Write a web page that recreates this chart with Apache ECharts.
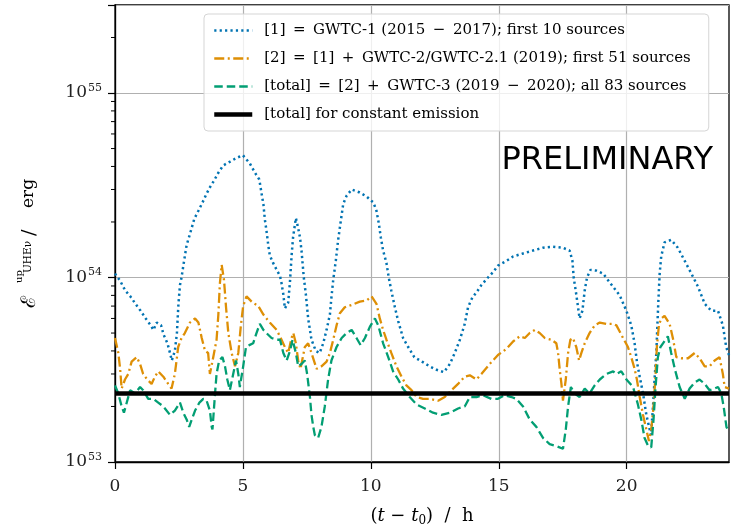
<!DOCTYPE html>
<html>
<head>
<meta charset="utf-8" />
<script src="https://cdn.jsdelivr.net/npm/echarts@6/dist/echarts.min.js"></script>
<style>
html, body { margin: 0; padding: 0; background: #fff; }
#chart { width: 732px; height: 530px; }
</style>
</head>
<body>
<div id="chart"></div>
<script>
// time since t0 in hours, upper limits in units of 1e54 erg
var tGwtc1 = [0,0.2,0.4,0.6,0.8,1.0,1.2,1.4,1.5,1.63,1.8,1.9,2.05,2.15,2.22,2.34,2.42,2.48,2.54,2.6,2.7,2.8,2.93,3.1,3.26,3.42,3.58,3.72,3.87,4.04,4.23,4.5,4.75,5.0,5.27,5.47,5.64,5.73,5.8,5.86,5.92,5.99,6.05,6.18,6.32,6.45,6.51,6.58,6.64,6.71,6.77,6.84,6.9,6.96,7.07,7.16,7.23,7.29,7.38,7.46,7.55,7.68,7.85,8.0,8.14,8.27,8.4,8.46,8.53,8.63,8.72,8.82,8.92,9.05,9.25,9.54,9.83,10.1,10.22,10.31,10.39,10.48,10.61,10.7,10.8,10.94,11.07,11.26,11.46,11.7,12.0,12.3,12.57,12.86,13.09,13.28,13.48,13.67,13.8,13.97,14.13,14.32,14.58,14.78,14.97,15.3,15.56,15.95,16.34,16.73,17.12,17.5,17.77,17.88,17.93,18.03,18.16,18.27,18.36,18.45,18.58,18.81,19.08,19.34,19.73,19.99,20.18,20.31,20.4,20.51,20.64,20.77,20.9,20.95,21.03,21.09,21.16,21.2,21.24,21.29,21.35,21.48,21.74,22.0,22.27,22.53,22.79,23.05,23.31,23.57,23.76,23.89,24.0];
var eGwtc1 = [1.05,0.96,0.85,0.79,0.72,0.66,0.6,0.55,0.52,0.57,0.55,0.49,0.44,0.39,0.355,0.4,0.5,0.72,0.91,1.0,1.23,1.5,1.72,2.08,2.3,2.55,2.85,3.1,3.35,3.7,4.05,4.25,4.45,4.6,4.15,3.7,3.4,2.85,2.5,2.05,1.8,1.5,1.32,1.2,1.1,1.02,0.93,0.81,0.68,0.67,0.73,0.95,1.3,1.65,2.1,1.85,1.65,1.4,1.0,0.81,0.6,0.46,0.4,0.39,0.44,0.52,0.63,0.78,0.97,1.23,1.59,2.0,2.5,2.77,3.0,2.9,2.75,2.55,2.3,1.97,1.65,1.4,1.2,1.0,0.85,0.69,0.58,0.47,0.42,0.37,0.35,0.33,0.316,0.307,0.34,0.39,0.46,0.56,0.69,0.78,0.83,0.91,1.0,1.07,1.16,1.23,1.3,1.35,1.4,1.45,1.47,1.45,1.4,1.23,1.0,0.81,0.6,0.66,0.85,1.0,1.1,1.09,1.05,0.94,0.8,0.66,0.55,0.44,0.35,0.29,0.235,0.18,0.15,0.14,0.2,0.28,0.39,0.55,0.75,1.05,1.3,1.55,1.6,1.45,1.23,1.05,0.89,0.72,0.66,0.66,0.55,0.42,0.38];

var tGwtc2 = [0,0.13,0.2,0.26,0.39,0.52,0.65,0.85,0.98,1.1,1.26,1.43,1.56,1.69,1.89,2.08,2.21,2.34,2.47,2.6,2.73,2.93,3.13,3.26,3.39,3.52,3.64,3.71,3.78,3.84,3.97,4.04,4.1,4.17,4.26,4.34,4.43,4.56,4.69,4.82,4.92,5.01,5.14,5.34,5.6,5.8,6.05,6.32,6.51,6.64,6.77,6.9,6.97,7.07,7.16,7.25,7.42,7.55,7.68,7.88,8.07,8.27,8.4,8.53,8.66,8.79,8.98,9.25,9.57,9.83,10.03,10.22,10.35,10.48,10.61,10.8,11.0,11.2,11.39,11.59,11.79,12.04,12.3,12.63,12.89,13.15,13.41,13.67,13.87,14.13,14.32,14.65,14.97,15.3,15.56,15.82,16.02,16.21,16.41,16.6,16.8,17.06,17.25,17.32,17.38,17.45,17.51,17.62,17.71,17.8,17.9,18.03,18.14,18.23,18.36,18.55,18.75,18.95,19.21,19.47,19.6,19.86,20.05,20.18,20.31,20.4,20.51,20.64,20.77,20.87,20.96,21.05,21.13,21.18,21.26,21.35,21.48,21.68,21.82,21.94,22.14,22.4,22.66,22.85,23.05,23.24,23.44,23.63,23.76,23.83,24.0];
var eGwtc2 = [0.47,0.39,0.32,0.25,0.28,0.3,0.35,0.37,0.34,0.3,0.28,0.265,0.29,0.31,0.29,0.265,0.25,0.3,0.42,0.47,0.5,0.57,0.6,0.57,0.47,0.4,0.39,0.3,0.3,0.37,0.46,0.63,0.93,1.17,0.97,0.69,0.5,0.39,0.33,0.39,0.55,0.7,0.79,0.74,0.7,0.63,0.57,0.52,0.46,0.42,0.39,0.47,0.5,0.44,0.355,0.32,0.42,0.44,0.39,0.32,0.33,0.35,0.39,0.46,0.55,0.64,0.69,0.71,0.74,0.75,0.79,0.72,0.6,0.52,0.46,0.39,0.33,0.29,0.26,0.245,0.225,0.22,0.22,0.215,0.225,0.245,0.265,0.29,0.295,0.28,0.3,0.34,0.38,0.41,0.45,0.48,0.47,0.5,0.52,0.5,0.47,0.46,0.44,0.39,0.32,0.265,0.215,0.28,0.39,0.46,0.47,0.42,0.355,0.39,0.44,0.5,0.55,0.57,0.56,0.56,0.55,0.47,0.42,0.37,0.32,0.28,0.225,0.18,0.15,0.13,0.15,0.2,0.3,0.42,0.55,0.6,0.62,0.56,0.46,0.37,0.365,0.365,0.39,0.365,0.33,0.33,0.355,0.37,0.3,0.255,0.25];

var tTotal = [0,0.13,0.26,0.35,0.46,0.59,0.78,0.98,1.1,1.3,1.5,1.69,1.89,2.15,2.34,2.54,2.67,2.8,2.9,3.0,3.13,3.3,3.45,3.58,3.71,3.78,3.81,3.91,3.97,4.07,4.2,4.3,4.39,4.49,4.62,4.73,4.82,4.88,5.01,5.12,5.25,5.4,5.53,5.66,5.8,5.92,6.12,6.32,6.45,6.58,6.71,6.84,6.94,7.07,7.16,7.29,7.42,7.51,7.62,7.68,7.75,7.81,7.94,8.07,8.2,8.33,8.46,8.66,8.86,9.05,9.25,9.44,9.6,9.77,9.96,10.16,10.29,10.48,10.68,10.87,11.07,11.26,11.52,11.79,12.11,12.43,12.76,13.09,13.41,13.67,13.87,14.13,14.39,14.71,14.97,15.23,15.5,15.69,15.95,16.21,16.47,16.73,16.99,17.25,17.51,17.62,17.71,17.82,17.97,18.16,18.36,18.55,18.75,18.95,19.21,19.47,19.6,19.79,19.99,20.25,20.44,20.57,20.7,20.83,20.96,21.05,21.13,21.22,21.32,21.42,21.61,21.74,21.88,22.07,22.27,22.46,22.66,22.85,23.05,23.24,23.44,23.57,23.7,23.79,23.9,24.0];
var eTotal = [0.26,0.235,0.2,0.185,0.21,0.245,0.235,0.255,0.245,0.22,0.22,0.21,0.2,0.18,0.19,0.21,0.185,0.17,0.155,0.17,0.19,0.21,0.22,0.215,0.19,0.155,0.15,0.235,0.3,0.355,0.37,0.33,0.28,0.245,0.3,0.355,0.3,0.255,0.33,0.42,0.43,0.44,0.5,0.56,0.52,0.5,0.47,0.46,0.46,0.39,0.355,0.4,0.46,0.39,0.33,0.34,0.355,0.3,0.225,0.18,0.155,0.14,0.135,0.155,0.2,0.28,0.355,0.42,0.47,0.5,0.52,0.47,0.43,0.47,0.54,0.6,0.55,0.44,0.37,0.31,0.28,0.25,0.225,0.205,0.195,0.185,0.18,0.185,0.195,0.2,0.225,0.225,0.23,0.22,0.22,0.23,0.225,0.22,0.2,0.17,0.155,0.135,0.125,0.122,0.118,0.15,0.2,0.255,0.235,0.225,0.25,0.235,0.26,0.28,0.3,0.31,0.3,0.31,0.28,0.255,0.205,0.17,0.135,0.123,0.12,0.17,0.255,0.37,0.42,0.44,0.48,0.39,0.32,0.255,0.22,0.25,0.27,0.28,0.265,0.245,0.25,0.255,0.235,0.2,0.155,0.145];

var tConst = [0, 24];
var eConst = [0.235, 0.235];

var seriesNames = [
  '[1]\u2002=\u2002GWTC-1 (2015\u2002\u2212\u20022017); first 10 sources',
  '[2]\u2002=\u2002[1]\u2002+\u2002GWTC-2/GWTC-2.1 (2019); first 51 sources',
  '[total]\u2002=\u2002[2]\u2002+\u2002GWTC-3 (2019\u2002\u2212\u20022020); all 83 sources',
  '[total] for constant emission'
];
var xTicks = [0, 5, 10, 15, 20];
var minorMult = [2, 3, 4, 5, 6, 7, 8, 9];
var minorDecades = [53, 54];

var UNIT = 1e54;
var SERIF = 'DejaVu Serif';

function pairs(t, e) {
  return t.map(function(x, i) { return [x, e[i] * UNIT]; });
}

var minorTicks = [];
minorDecades.forEach(function(d) {
  minorMult.forEach(function(m) { minorTicks.push([0, m * Math.pow(10, d)]); });
});
minorTicks.push([0, 2e55]);

function lineSeries(name, t, e, color, dash, width) {
  return {
    name: name,
    type: 'line',
    data: pairs(t, e),
    symbol: 'none',
    smooth: false,
    silent: true,
    lineStyle: { color: color, width: width, type: dash, cap: 'butt' },
    itemStyle: { color: color }
  };
}

var chart = echarts.init(document.getElementById('chart'), null, { renderer: 'canvas' });

var option = {
  animation: false,
  backgroundColor: '#fff',
  title: {
    text: 'PRELIMINARY',
    right: 19,
    top: 145,
    padding: 0,
    textStyle: { fontFamily: 'DejaVu Sans', fontSize: 32, fontWeight: 'normal', color: '#000' }
  },
  grid: {
    left: 115, right: 3, top: 5, bottom: 68,
    show: true, borderColor: '#000', borderWidth: 1.3,
    outerBoundsMode: 'none'
  },
  legend: {
    orient: 'vertical',
    left: 204,
    top: 14,
    padding: [9, 18, 9, 8],
    itemWidth: 38,
    itemHeight: 15,
    itemGap: 13,
    backgroundColor: 'rgba(255,255,255,0.8)',
    borderColor: '#d5d5d5',
    borderWidth: 1,
    borderRadius: 4,
    selectedMode: false,
    itemStyle: { opacity: 0 },
    lineStyle: { width: 2.3 },
    textStyle: { fontFamily: SERIF, fontSize: 15, color: '#000', padding: [0, 0, 0, 7] },
    data: [
      { name: seriesNames[0] },
      { name: seriesNames[1] },
      { name: seriesNames[2] },
      { name: seriesNames[3], lineStyle: { width: 4.5 } }
    ]
  },
  xAxis: {
    type: 'value',
    min: 0,
    max: 24,
    interval: 5,
    name: '{n|(}{i|t}{n| \u2212 }{i|t}{sub|0}{n|)  /  h}',
    nameLocation: 'middle',
    nameGap: 44,
    nameTextStyle: {
      rich: {
        n: { fontFamily: SERIF, fontSize: 18, color: '#000' },
        i: { fontFamily: SERIF, fontSize: 18, fontStyle: 'italic', color: '#000' },
        sub: { fontFamily: SERIF, fontSize: 12, color: '#000', padding: [9, 0, 0, 0] }
      }
    },
    axisLine: { lineStyle: { color: '#000', width: 1.3 } },
    axisTick: { length: 7, lineStyle: { color: '#000', width: 1.2 }, customValues: xTicks },
    axisLabel: {
      customValues: xTicks,
      margin: 16,
      fontFamily: SERIF, fontSize: 17, color: '#222',
      formatter: function(v) { return v % 5 === 0 ? String(v) : ''; }
    },
    splitLine: { lineStyle: { color: '#b0b0b0', width: 1.2 } }
  },
  yAxis: {
    type: 'log',
    logBase: 10,
    min: 1e53,
    max: 3e55,
    axisLine: { lineStyle: { color: '#000', width: 1.3 } },
    axisTick: { length: 7, lineStyle: { color: '#000', width: 1.2 } },
    axisLabel: {
      margin: 13,
      formatter: function(v) {
        var p = Math.log10(v);
        if (Math.abs(p - Math.round(p)) > 1e-6) return '';
        return '{b|10}{s|' + Math.round(p) + '}';
      },
      rich: {
        b: { fontFamily: SERIF, fontSize: 17, color: '#222', verticalAlign: 'middle', lineHeight: 20 },
        s: { fontFamily: SERIF, fontSize: 11, color: '#222', verticalAlign: 'middle', lineHeight: 20, padding: [0, 0, 10, 1] }
      }
    },
    splitLine: { lineStyle: { color: '#b0b0b0', width: 1.2 } }
  },
  graphic: [{
    type: 'group',
    x: 30,
    y: 236,
    rotation: Math.PI / 2,
    children: [
      { type: 'text', x: -72, y: 0, style: { text: '\u2130', fontFamily: SERIF, fontSize: 20, fill: '#000', verticalAlign: 'middle' } },
      { type: 'text', x: -47, y: -11, style: { text: 'up', fontFamily: SERIF, fontSize: 10, fill: '#000', verticalAlign: 'middle' } },
      { type: 'text', x: -37, y: -2, style: { text: 'UHE\u03bd', fontFamily: SERIF, fontSize: 10.5, fill: '#000', verticalAlign: 'middle' } },
      { type: 'text', x: 0, y: 0, style: { text: '/', fontFamily: SERIF, fontSize: 19, fill: '#000', verticalAlign: 'middle' } },
      { type: 'text', x: 28, y: -1, style: { text: 'erg', fontFamily: SERIF, fontSize: 17, fill: '#000', verticalAlign: 'middle' } }
    ]
  }],
  series: [
    lineSeries(seriesNames[0], tGwtc1, eGwtc1, '#0173b2', [2.2, 3.2], 2.5),
    lineSeries(seriesNames[1], tGwtc2, eGwtc2, '#de8f05', [10, 3.5, 2, 3.5], 2.3),
    lineSeries(seriesNames[2], tTotal, eTotal, '#029e73', [8.5, 4], 2.3),
    lineSeries(seriesNames[3], tConst, eConst, '#000', 'solid', 4.5),
    {
      type: 'custom',
      silent: true,
      clip: false,
      data: minorTicks,
      encode: { x: 0, y: 1 },
      renderItem: function(params, api) {
        var p = api.coord([api.value(0), api.value(1)]);
        return {
          type: 'line',
          shape: { x1: p[0] - 4, y1: p[1], x2: p[0], y2: p[1] },
          style: { stroke: '#000', lineWidth: 1 }
        };
      }
    }
  ]
};

chart.setOption(option);
</script>
</body>
</html>
